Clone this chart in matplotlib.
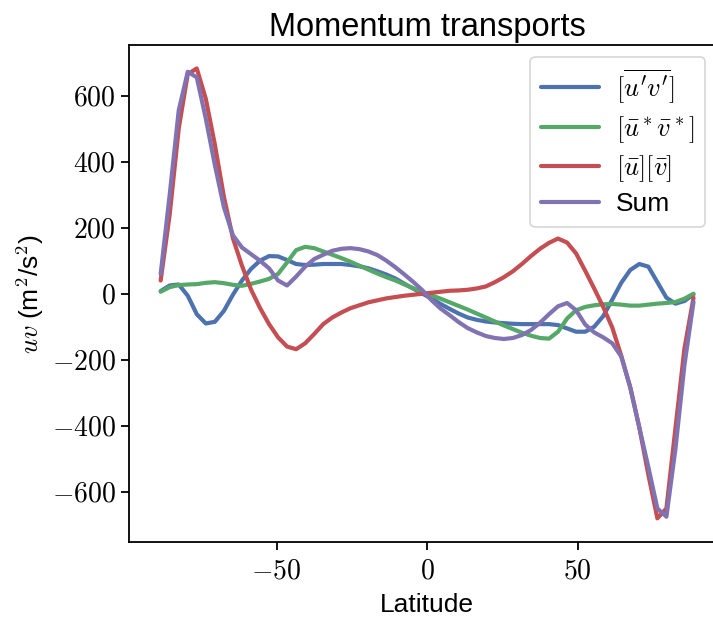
import numpy as np
import matplotlib.pyplot as plt
from matplotlib.ticker import FuncFormatter

plt.rcParams['font.family'] = ['Liberation Sans', 'DejaVu Sans']
plt.rcParams['mathtext.fontset'] = 'cm'

# latitude grid (deg)
lat = np.arange(-88.5, 89.0, 3.0)

# eddy transport [u'v']
eddy = [8, 25, 28, -6, -62, -90, -85, -52, -3, 40,
        75, 100, 114, 113, 102, 90, 87, 88, 90, 90,
        90, 87, 83, 77, 68, 58, 46, 30, 15, 0,
        -15, -31, -46, -60, -72, -79, -84, -87, -89, -91,
        -92, -92, -92, -92, -95, -105, -115, -115, -100, -68,
        -18, 33, 72, 90, 82, 35, -12, -30, -22, -2]

# stationary eddies [u* v*]
stat = [6, 20, 26, 28, 29, 33, 35, 32, 27, 24,
        30, 37, 45, 60, 95, 132, 142, 138, 128, 118,
        108, 97, 85, 73, 61, 50, 40, 28, 16, 5,
        -5, -15, -26, -37, -48, -60, -72, -84, -96, -107,
        -118, -127, -134, -136, -115, -75, -50, -40, -35, -32,
        -31, -33, -36, -36, -33, -30, -28, -25, -15, 0]

# mean meridional circulation [u][v]
mmc = [40, 240, 500, 665, 682, 590, 452, 294, 168, 85,
       13, -43, -92, -132, -160, -168, -150, -122, -92, -72,
       -57, -44, -35, -26, -20, -14, -10, -6, -3, 0,
       3, 6, 9, 10, 12, 16, 22, 35, 50, 68,
       90, 114, 136, 154, 167, 155, 122, 70, 16, -40,
       -102, -188, -284, -405, -548, -680, -650, -407, -165, -12]

# total
total = [60, 300, 555, 672, 655, 530, 390, 262, 177, 140,
         120, 100, 77, 40, 25, 52, 82, 105, 118, 130,
         136, 138, 135, 128, 117, 100, 80, 58, 35, 10,
         -20, -45, -65, -86, -104, -117, -128, -134, -137, -134,
         -125, -110, -88, -62, -38, -28, -50, -93, -117, -132,
         -150, -190, -284, -405, -525, -650, -675, -470, -215, -25]

labels = [r'$[\overline{u^\prime v^\prime}]$', r'$[\bar{u}^*\bar{v}^*]$',
          r'$[\bar{u}][\bar{v}]$', 'Sum']
colors = ['#4C72B0', '#55A868', '#C44E52', '#8172B2']

fig = plt.figure(figsize=(7.13, 6.21), dpi=100)
ax = fig.add_axes([0.181, 0.127, 0.836, 0.8])

for series, lab, col in zip([eddy, stat, mmc, total], labels, colors):
    ax.plot(lat, series, color=col, lw=3, label=lab,
            solid_joinstyle='round', solid_capstyle='round')

ax.set_xlim(-99, 99)
ax.set_ylim(-752, 752)
ax.set_xticks([-50, 0, 50])
ax.set_yticks(np.arange(-600, 601, 200))

def mathfmt(v, pos):
    return r'$%d$' % v

ax.xaxis.set_major_formatter(FuncFormatter(mathfmt))
ax.yaxis.set_major_formatter(FuncFormatter(mathfmt))
ax.tick_params(direction='out', length=6, width=1.3, labelsize=20,
               top=False, right=False)
ax.tick_params(axis='x', pad=6)
for s in ax.spines.values():
    s.set_linewidth(1.3)
    s.set_color('black')

ax.set_xlabel('Latitude', fontsize=19, labelpad=6)
ax.set_ylabel(r'$uv$ (m$^2$/s$^2$)', fontsize=19)
ax.set_title('Momentum transports', fontsize=23.5, pad=7)

leg = ax.legend(loc='upper right', bbox_to_anchor=(705 / 713, 1 - 57 / 621),
                bbox_transform=fig.transFigure, borderaxespad=0,
                fontsize=19, fancybox=True, frameon=True,
                labelspacing=0.32, handlelength=2.2, handletextpad=0.65)
leg.get_frame().set_edgecolor('#cccccc')
leg.get_frame().set_linewidth(1.2)

fig.savefig('out.png', dpi=100)
